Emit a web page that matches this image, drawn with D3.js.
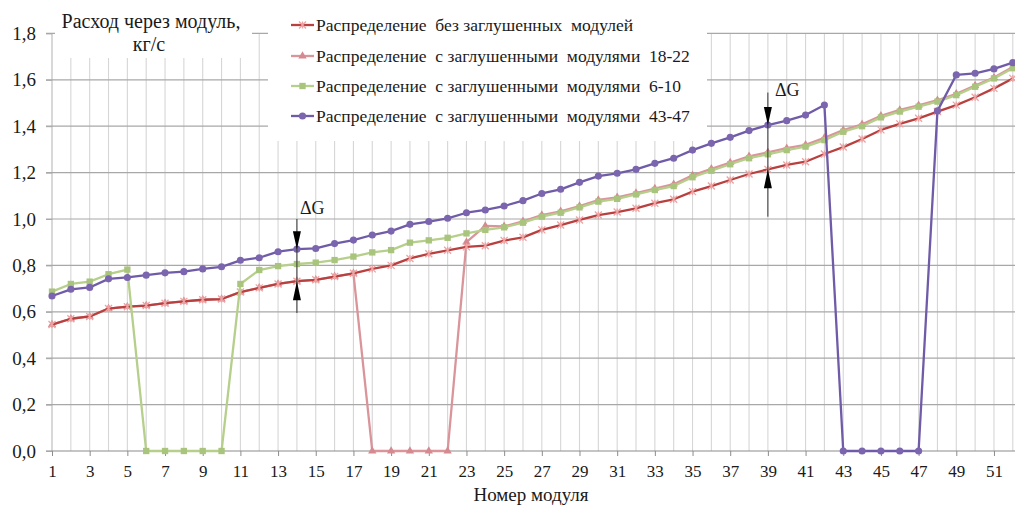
<!DOCTYPE html>
<html>
<head>
<meta charset="utf-8">
<script src="https://cdn.jsdelivr.net/npm/d3@7"></script>
<style>
  body { margin: 0; background: #fff; }
  svg { display: block; }
  svg text { fill: #1a1a1a; }
</style>
</head>
<body>
<svg id="chart" width="1015" height="506"></svg>
<script>
// Module numbers along the header
const modules = d3.range(1, 53);

// Flow per module, kg/s
const flowNoPlugs = [
  0.545, 0.570, 0.580, 0.614, 0.622, 0.627, 0.637, 0.645, 0.652, 0.655,
  0.685, 0.703, 0.720, 0.732, 0.738, 0.752, 0.766, 0.785, 0.800, 0.830,
  0.850, 0.865, 0.880, 0.885, 0.907, 0.921, 0.953, 0.974, 0.996, 1.017,
  1.030, 1.046, 1.068, 1.085, 1.118, 1.142, 1.168, 1.194, 1.214, 1.233,
  1.247, 1.280, 1.310, 1.345, 1.384, 1.410, 1.434, 1.463, 1.491, 1.525,
  1.563, 1.606
];
const flowPlugged18to22 = [
  0.545, 0.570, 0.580, 0.614, 0.622, 0.627, 0.637, 0.645, 0.652, 0.655,
  0.685, 0.703, 0.720, 0.732, 0.738, 0.752, 0.766, 0.000, 0.000, 0.000,
  0.000, 0.000, 0.900, 0.970, 0.968, 0.990, 1.017, 1.033, 1.056, 1.082,
  1.093, 1.112, 1.131, 1.150, 1.188, 1.216, 1.243, 1.270, 1.287, 1.305,
  1.320, 1.350, 1.383, 1.408, 1.445, 1.470, 1.490, 1.512, 1.540, 1.575,
  1.610, 1.655
];
const flowPlugged6to10 = [
  0.687, 0.720, 0.730, 0.762, 0.782, 0.000, 0.000, 0.000, 0.000, 0.000,
  0.720, 0.780, 0.797, 0.806, 0.812, 0.823, 0.838, 0.856, 0.866, 0.898,
  0.908, 0.919, 0.938, 0.953, 0.964, 0.984, 1.010, 1.027, 1.050, 1.075,
  1.087, 1.106, 1.125, 1.142, 1.180, 1.208, 1.236, 1.262, 1.279, 1.297,
  1.312, 1.340, 1.376, 1.400, 1.438, 1.463, 1.484, 1.506, 1.534, 1.570,
  1.606, 1.650
];
const flowPlugged43to47 = [
  0.668, 0.697, 0.705, 0.742, 0.748, 0.758, 0.768, 0.773, 0.785, 0.794,
  0.822, 0.833, 0.859, 0.870, 0.873, 0.894, 0.909, 0.931, 0.948, 0.977,
  0.989, 1.003, 1.027, 1.039, 1.056, 1.079, 1.110, 1.128, 1.158, 1.185,
  1.197, 1.214, 1.240, 1.262, 1.297, 1.326, 1.352, 1.381, 1.405, 1.424,
  1.448, 1.491, 0.000, 0.000, 0.000, 0.000, 0.000, 1.466, 1.621, 1.628,
  1.647, 1.674
];

const seriesNames = [
  "Распределение  без заглушенных  модулей",
  "Распределение  с заглушенными  модулями  18-22",
  "Распределение  с заглушенными  модулями  6-10",
  "Распределение  с заглушенными  модулями  43-47"
];

const yTickValues = [0, 0.2, 0.4, 0.6, 0.8, 1.0, 1.2, 1.4, 1.6, 1.8];
const xTickValues = modules.filter(m => m % 2 === 1);

const yTitle = ["Расход через модуль,", "кг/с"];
const xTitle = "Номер модуля";
const deltaLabel = "ΔG";

// ΔG markers: module, and the extent of the guide line in kg/s
const deltaMarks = [
  { module: 14, top: 1.0, bottom: 0.595, dx: 3, dy: -5 },
  { module: 39, top: 1.545, bottom: 1.01, dx: 7, dy: 3 }
];

const FONT = '"Liberation Serif", "Times New Roman", serif';
const W = 1015, H = 506;
const svg = d3.select("#chart");
const x = d3.scaleLinear().domain([1, 52]).range([52, 1012.8]);
const y = d3.scaleLinear().domain([0, 1.8]).range([451, 33.4]);

const ru = d3.formatLocale({ decimal: ",", thousands: " ", grouping: [3], currency: ["", ""] });
const fmt = ru.format(".1f");

// vertical grid, one line per module
svg.append("g").selectAll("line").data(modules).join("line")
  .attr("x1", d => x(d)).attr("x2", d => x(d))
  .attr("y1", y(1.8)).attr("y2", y(0))
  .attr("stroke", d => d === 1 ? "#b8b8b8" : "#d6d6d6").attr("stroke-width", 1.1);

// horizontal grid
svg.append("g").selectAll("line").data(yTickValues).join("line")
  .attr("x1", 46).attr("x2", W)
  .attr("y1", d => y(d)).attr("y2", d => y(d))
  .attr("stroke", d => d === 0 ? "#8c8c8c" : "#a8a8a8").attr("stroke-width", 1.2);

// axes (labels and tick marks)
const yAxis = svg.append("g").attr("transform", `translate(${x(1)},0)`)
  .call(d3.axisLeft(y).tickValues(yTickValues).tickFormat(fmt).tickSize(6).tickPadding(10))
  .attr("font-family", FONT).attr("font-size", 19);
yAxis.select(".domain").remove();
yAxis.selectAll(".tick line").attr("stroke", "#a8a8a8");
yAxis.selectAll("text").attr("fill", "#1a1a1a");

const xAxis = svg.append("g").attr("transform", `translate(0,${y(0)})`)
  .call(d3.axisBottom(x).tickValues(xTickValues).tickFormat(d3.format("d")).tickSize(5).tickPadding(9))
  .attr("font-family", FONT).attr("font-size", 17);
xAxis.select(".domain").remove();
xAxis.selectAll(".tick line").attr("stroke", "#8c8c8c");
xAxis.selectAll("text").attr("fill", "#1a1a1a");

svg.append("text").attr("x", 531).attr("y", 501).attr("text-anchor", "middle")
  .attr("font-family", FONT).attr("font-size", 19).text(xTitle);

// marker shapes
function starPath(s) {
  const h = s / 2;
  return `M${-h},${-h}L${h},${h}M${-h},${h}L${h},${-h}M0,${-h}L0,${h}`;
}
const series = [
  { name: seriesNames[1], values: flowPlugged18to22, line: "#d9959a", mark: "#d48a90", shape: "tri" },
  { name: seriesNames[0], values: flowNoPlugs, line: "#b8403f", mark: "#eda3a3", shape: "star" },
  { name: seriesNames[2], values: flowPlugged6to10, line: "#b6cf8b", mark: "#a9c47c", shape: "square" },
  { name: seriesNames[3], values: flowPlugged43to47, line: "#6f5ba7", mark: "#7a65ae", shape: "circle" }
];

function drawMarker(g, shape, color) {
  if (shape === "star") {
    g.append("path").attr("d", starPath(7)).attr("stroke", color).attr("stroke-width", 1.3).attr("fill", "none");
  } else if (shape === "tri") {
    g.append("path").attr("d", d3.symbol(d3.symbolTriangle, 30)()).attr("fill", color);
  } else if (shape === "square") {
    g.append("path").attr("d", d3.symbol(d3.symbolSquare, 40)()).attr("fill", color);
  } else {
    g.append("path").attr("d", d3.symbol(d3.symbolCircle, 40)()).attr("fill", color);
  }
}

const lineGen = d3.line().x((d, i) => x(modules[i])).y(d => y(d));
series.forEach(s => {
  const g = svg.append("g");
  g.append("path").datum(s.values).attr("d", lineGen)
    .attr("fill", "none").attr("stroke", s.line).attr("stroke-width", 2.3).attr("stroke-linejoin", "round");
  s.values.forEach((v, i) => {
    const mg = g.append("g").attr("transform", `translate(${x(modules[i])},${y(v)})`);
    drawMarker(mg, s.shape, s.mark);
  });
});

// ΔG guides between the 43-47 curve and the unplugged curve
deltaMarks.forEach(dm => {
  const i = dm.module - 1;
  const cx = x(dm.module);
  const yHi = y(flowPlugged43to47[i]);
  const yLo = y(flowNoPlugs[i]);
  svg.append("line").attr("x1", cx).attr("x2", cx).attr("y1", y(dm.top)).attr("y2", y(dm.bottom))
    .attr("stroke", "#333").attr("stroke-width", 1);
  svg.append("path").attr("d", `M${cx},${yHi}L${cx - 4},${yHi - 18}L${cx + 4},${yHi - 18}Z`).attr("fill", "#000");
  svg.append("path").attr("d", `M${cx},${yLo}L${cx - 4},${yLo + 19}L${cx + 4},${yLo + 19}Z`).attr("fill", "#000");
  svg.append("text").attr("x", cx + dm.dx).attr("y", y(dm.top) + dm.dy)
    .attr("font-family", FONT).attr("font-size", 18).text(deltaLabel);
});

// axis title box
svg.append("rect").attr("x", 55).attr("y", 0).attr("width", 197).attr("height", 58).attr("fill", "#fff");
svg.append("text").attr("x", 151).attr("y", 28).attr("text-anchor", "middle")
  .attr("font-family", FONT).attr("font-size", 20).text(yTitle[0]);
svg.append("text").attr("x", 149).attr("y", 51).attr("text-anchor", "middle")
  .attr("font-family", FONT).attr("font-size", 20).text(yTitle[1]);

// legend
const legendRows = [
  { s: series[1], cy: 25 }, { s: series[0], cy: 56 }, { s: series[2], cy: 86 }, { s: series[3], cy: 116 }
];
svg.append("rect").attr("x", 268).attr("y", 0).attr("width", 439).attr("height", 141).attr("fill", "#fff");
const lg = svg.append("g");
legendRows.forEach((e, k) => {
  const s = k === 0 ? series[1] : k === 1 ? series[0] : e.s;
  const cy = e.cy;
  lg.append("line").attr("x1", 291).attr("x2", 314).attr("y1", cy).attr("y2", cy)
    .attr("stroke", s.line).attr("stroke-width", 2.3);
  drawMarker(lg.append("g").attr("transform", `translate(302.5,${cy})`), s.shape, s.mark);
  lg.append("text").attr("x", 316).attr("y", cy + 5.5)
    .attr("font-family", FONT).attr("font-size", 17.5)
    .style("white-space", "pre").text(s.name);
});
</script>
</body>
</html>
